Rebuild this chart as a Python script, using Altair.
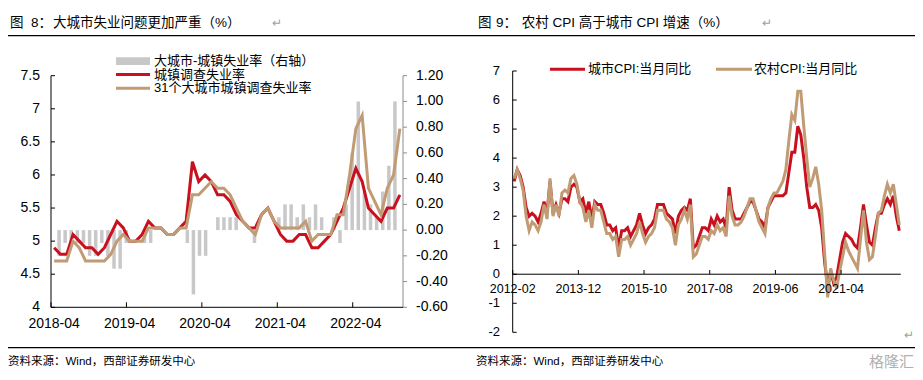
import altair as alt
import pandas as pd

# ================= 图8 data =================
months8 = pd.period_range("2018-04", "2022-11", freq="M").strftime("%Y-%m").tolist()
unemp_urban = [4.9, 4.8, 4.8, 5.1, 5.0, 4.9, 4.9, 4.8, 4.9,
               5.1, 5.3, 5.2, 5.0, 5.0, 5.1, 5.3, 5.2, 5.2, 5.1, 5.1, 5.2,
               5.3, 6.2, 5.9, 6.0, 5.9, 5.7, 5.7, 5.6, 5.4, 5.3, 5.2, 5.2,
               5.4, 5.5, 5.3, 5.1, 5.0, 5.0, 5.1, 5.1, 4.9, 4.9, 5.0, 5.1,
               5.3, 5.5, 5.8, 6.1, 5.9, 5.5, 5.4, 5.3, 5.5, 5.5, 5.7]
unemp_31 = [4.7, 4.7, 4.7, 5.0, 4.9, 4.7, 4.7, 4.7, 4.7,
            4.8, 5.0, 5.1, 5.0, 5.0, 5.0, 5.2, 5.2, 5.2, 5.1, 5.1, 5.2,
            5.2, 5.7, 5.7, 5.8, 5.9, 5.8, 5.8, 5.7, 5.5, 5.3, 5.2, 5.1,
            5.4, 5.5, 5.3, 5.2, 5.2, 5.2, 5.2, 5.3, 5.0, 5.1, 5.1, 5.1,
            5.4, 5.4, 6.0, 6.7, 6.9, 5.8, 5.6, 5.4, 5.8, 6.0, 6.7]
unemp_gap = [-0.2, -0.1, -0.1, -0.1, -0.1, -0.2, -0.2, -0.1, -0.2,
             -0.3, -0.3, -0.1, 0.0, 0.0, -0.1, -0.1, 0.0, 0.0, 0.0, 0.0, 0.0,
             -0.1, -0.5, -0.2, -0.2, 0.0, 0.1, 0.1, 0.1, 0.1, 0.0, 0.0, -0.1,
             0.0, 0.0, 0.0, 0.1, 0.2, 0.2, 0.1, 0.2, 0.1, 0.2, 0.1, 0.0,
             0.1, -0.1, 0.2, 0.6, 1.0, 0.3, 0.2, 0.1, 0.3, 0.5, 1.0]
xlabels8 = ["2018-04", "2019-04", "2020-04", "2021-04", "2022-04"]
yl8_vals = [4, 4.5, 5, 5.5, 6, 6.5, 7, 7.5]
yl8_labs = ["4", "4.5", "5", "5.5", "6", "6.5", "7", "7.5"]
yr8_vals = [-0.6, -0.4, -0.2, 0.0, 0.2, 0.4, 0.6, 0.8, 1.0, 1.2]
yr8_labs = ["-0.60", "-0.40", "-0.20", "0.00", "0.20", "0.40", "0.60", "0.80", "1.00", "1.20"]

# ================= 图9 data =================
months9 = pd.period_range("2012-02", "2022-11", freq="M").strftime("%Y-%m").tolist()
cpi_urban = [3.2, 3.6, 3.4, 3.0, 2.3, 2.0, 2.1, 2.0, 1.8, 2.1, 2.5,
             2.1, 3.2, 2.1, 2.4, 2.1, 2.6, 2.6, 2.5, 3.0, 3.1, 3.0, 2.5,
             2.6, 2.1, 2.5, 1.9, 2.5, 2.4, 2.4, 2.1, 1.7, 1.7, 1.5, 1.6,
             0.9, 1.5, 1.5, 1.6, 1.3, 1.5, 1.7, 2.1, 1.7, 1.4, 1.6, 1.7,
             1.9, 2.4, 2.4, 2.4, 2.1, 2.0, 1.9, 1.4, 2.0, 2.2, 2.3, 2.2,
             2.6, 0.9, 1.0, 1.3, 1.6, 1.6, 1.5, 1.9, 1.7, 2.0, 1.8, 1.9,
             1.6, 3.0, 2.2, 1.9, 1.9, 1.9, 2.1, 2.3, 2.5, 2.5, 2.2, 1.9,
             1.8, 1.6, 2.3, 2.5, 2.7, 2.7, 2.7, 2.7, 2.8, 3.5, 4.2, 4.2,
             5.1, 4.8, 4.0, 3.0, 2.3, 2.3, 2.4, 2.2, 1.6, 0.4, -0.4, 0.1,
             -0.3, -0.1, 0.5, 1.1, 1.4, 1.3, 1.2, 1.0, 0.9, 1.6, 2.4, 1.7,
             1.1, 1.0, 1.6, 2.1, 2.1, 2.4, 2.6, 2.4, 2.7, 2.0, 1.5]
cpi_rural = [3.3, 3.6, 3.3, 2.9, 2.0, 1.5, 1.8, 1.7, 1.5, 1.8, 2.4,
             1.9, 3.3, 2.0, 2.4, 2.0, 2.8, 2.9, 2.8, 3.3, 3.4, 3.1, 2.5,
             2.3, 1.8, 2.2, 1.6, 2.4, 2.2, 2.2, 1.8, 1.4, 1.4, 1.2, 1.3,
             0.6, 1.2, 1.2, 1.3, 1.0, 1.2, 1.4, 1.8, 1.4, 1.1, 1.3, 1.4,
             1.6, 2.2, 2.2, 2.2, 1.9, 1.8, 1.6, 1.0, 1.7, 1.9, 2.2, 1.9,
             2.4, 0.6, 0.7, 1.0, 1.3, 1.3, 1.2, 1.5, 1.4, 1.7, 1.5, 1.6,
             1.3, 2.7, 2.0, 1.7, 1.7, 1.8, 2.0, 2.3, 2.6, 2.6, 2.2, 1.8,
             1.6, 1.4, 2.3, 2.6, 2.8, 2.8, 3.0, 3.2, 3.6, 4.6, 5.5, 5.3,
             6.3, 6.3, 5.1, 4.0, 3.0, 3.3, 3.7, 3.1, 2.2, 0.7, -0.8, 0.2,
             -0.2, -0.5, 0.1, 0.6, 1.1, 0.8, 0.6, 0.4, 0.2, 1.2, 2.2, 1.1,
             0.5, 0.6, 1.3, 2.1, 2.2, 2.7, 3.1, 2.8, 3.1, 2.4, 1.7]
xlabels9 = ["2012-02", "2013-12", "2015-10", "2017-08", "2019-06", "2021-04"]
y9_vals = [-2, -1, 0, 1, 2, 3, 4, 5, 6, 7]
y9_labs = ["-2", "-1", "0", "1", "2", "3", "4", "5", "6", "7"]

# ================= styles =================
RED = "#C8101E"
TAN = "#C09B74"
GREY_BAR = "#C8C8C8"
NUM = "Liberation Sans, Arial, Noto Sans CJK SC, sans-serif"
CJK = "Liberation Sans, Noto Sans CJK SC, sans-serif"

df8 = pd.DataFrame({"i": range(len(months8)), "m": months8,
                    "urban": unemp_urban, "big": unemp_31, "gap": unemp_gap})
df9 = pd.DataFrame({"j": range(len(months9)), "m": months9,
                    "urban": cpi_urban, "rural": cpi_rural})

X8 = alt.Scale(domain=[-0.5, len(months8) - 0.5], range=[43, 395], nice=False, zero=False)
YL8 = alt.Scale(domain=[4, 7.5], range=[299.3, 67.7], nice=False, zero=False)
YR8 = alt.Scale(domain=[-0.6, 1.2], range=[299.3, 67.7], nice=False, zero=False)
X9 = alt.Scale(domain=[-0.5, len(months9) - 0.5], range=[504.7, 892.8], nice=False, zero=False)
Y9 = alt.Scale(domain=[-2, 7], range=[324.3, 63], nice=False, zero=False)


def one(**kw):
    return pd.DataFrame({k: [v] for k, v in kw.items()})


def txt(s, x, y, size=13, color="#000000", align="left", font=CJK):
    return alt.Chart(one(t=s)).mark_text(
        align=align, baseline="middle", fontSize=size, font=font, color=color
    ).encode(x=alt.value(x), y=alt.value(y), text="t:N")


def seg(x1, x2, y1, y2, color, w):
    return alt.Chart(one(a=0)).mark_rule(color=color, strokeWidth=w).encode(
        x=alt.value(x1), x2=alt.value(x2), y=alt.value(y1), y2=alt.value(y2))


layers = []

# ---------------- 图8 ----------------
layers.append(
    alt.Chart(df8).transform_calculate(base="0").mark_bar(size=3.5, color=GREY_BAR).encode(
        x=alt.X("i:Q", scale=X8, axis=None),
        y=alt.Y("gap:Q", scale=YR8, axis=None),
        y2="base:Q"))
layers.append(
    alt.Chart(df8).mark_line(color=RED, strokeWidth=3).encode(
        x=alt.X("i:Q", scale=X8, axis=None), y=alt.Y("urban:Q", scale=YL8, axis=None)))
layers.append(
    alt.Chart(df8).mark_line(color=TAN, strokeWidth=3).encode(
        x=alt.X("i:Q", scale=X8, axis=None), y=alt.Y("big:Q", scale=YL8, axis=None)))
# left axis
layers.append(alt.Chart(one(a=4, b=7.5)).mark_rule(color="black", strokeWidth=1).encode(
    x=alt.value(43), y=alt.Y("a:Q", scale=YL8, axis=None), y2="b:Q"))
layers.append(alt.Chart(pd.DataFrame({"v": yl8_vals})).mark_rule(color="black").encode(
    x=alt.value(43), x2=alt.value(47), y=alt.Y("v:Q", scale=YL8, axis=None)))
layers.append(alt.Chart(pd.DataFrame({"v": yl8_vals, "t": yl8_labs})).mark_text(
    align="right", baseline="middle", fontSize=14, font=NUM, color="black").encode(
    x=alt.value(32), y=alt.Y("v:Q", scale=YL8, axis=None), text="t:N"))
# right axis
layers.append(alt.Chart(one(a=-0.6, b=1.2)).mark_rule(color="#8C8C8C", strokeWidth=1).encode(
    x=alt.value(395), y=alt.Y("a:Q", scale=YR8, axis=None), y2="b:Q"))
layers.append(alt.Chart(pd.DataFrame({"v": yr8_vals})).mark_rule(color="#8C8C8C").encode(
    x=alt.value(395), x2=alt.value(399), y=alt.Y("v:Q", scale=YR8, axis=None)))
layers.append(alt.Chart(pd.DataFrame({"v": yr8_vals, "t": yr8_labs})).mark_text(
    align="left", baseline="middle", fontSize=14, font=NUM, color="black").encode(
    x=alt.value(408), y=alt.Y("v:Q", scale=YR8, axis=None), text="t:N"))
# x axis
layers.append(alt.Chart(one(a=-0.5, b=len(months8) - 0.5)).mark_rule(color="black").encode(
    x=alt.X("a:Q", scale=X8, axis=None), x2="b:Q", y=alt.value(299.3)))
pos8 = [months8.index(l) for l in xlabels8]
layers.append(alt.Chart(pd.DataFrame({"v": [p - 0.5 for p in pos8]})).mark_rule(color="black").encode(
    x=alt.X("v:Q", scale=X8, axis=None), y=alt.value(299.3), y2=alt.value(294.3)))
layers.append(alt.Chart(pd.DataFrame({"v": pos8, "t": xlabels8})).mark_text(
    align="center", baseline="middle", fontSize=14, font=NUM, color="black").encode(
    x=alt.X("v:Q", scale=X8, axis=None), y=alt.value(316.3), text="t:N"))
# legend 8
layers.append(alt.Chart(one(a=0)).mark_rect(color=GREY_BAR).encode(
    x=alt.value(108), x2=alt.value(142), y=alt.value(49.3), y2=alt.value(57)))
layers.append(seg(108, 142, 66.5, 66.5, RED, 3))
layers.append(seg(108, 142, 80.3, 80.3, TAN, 3))
layers.append(txt("大城市-城镇失业率（右轴）", 146, 53, 13))
layers.append(txt("城镇调查失业率", 146, 66.5, 13))
layers.append(txt("31个大城市城镇调查失业率", 146, 80.3, 13))

# ---------------- 图9 ----------------
layers.append(
    alt.Chart(df9).mark_line(color=RED, strokeWidth=3).encode(
        x=alt.X("j:Q", scale=X9, axis=None), y=alt.Y("urban:Q", scale=Y9, axis=None)))
layers.append(
    alt.Chart(df9).mark_line(color=TAN, strokeWidth=3).encode(
        x=alt.X("j:Q", scale=X9, axis=None), y=alt.Y("rural:Q", scale=Y9, axis=None)))
layers.append(alt.Chart(one(a=-2, b=7)).mark_rule(color="black").encode(
    x=alt.value(504.7), y=alt.Y("a:Q", scale=Y9, axis=None), y2="b:Q"))
layers.append(alt.Chart(pd.DataFrame({"v": y9_vals})).mark_rule(color="black").encode(
    x=alt.value(504.7), x2=alt.value(508.7), y=alt.Y("v:Q", scale=Y9, axis=None)))
layers.append(alt.Chart(pd.DataFrame({"v": y9_vals, "t": y9_labs})).mark_text(
    align="right", baseline="middle", fontSize=13, font=NUM, color="black").encode(
    x=alt.value(492), y=alt.Y("v:Q", scale=Y9, axis=None), text="t:N"))
layers.append(alt.Chart(one(a=-0.5, b=len(months9) - 0.5, z=0)).mark_rule(color="black").encode(
    x=alt.X("a:Q", scale=X9, axis=None), x2="b:Q", y=alt.Y("z:Q", scale=Y9, axis=None)))
pos9 = [months9.index(l) - 0.5 for l in xlabels9]
layers.append(alt.Chart(pd.DataFrame({"v": pos9})).mark_rule(color="black").encode(
    x=alt.X("v:Q", scale=X9, axis=None), y=alt.value(266), y2=alt.value(262)))
layers.append(alt.Chart(pd.DataFrame({"v": pos9, "t": xlabels9})).mark_text(
    align="center", baseline="middle", fontSize=12.5, font=NUM, color="black").encode(
    x=alt.X("v:Q", scale=X9, axis=None), y=alt.value(280.65), text="t:N"))
# legend 9
layers.append(seg(542, 577, 61.3, 61.3, RED, 3))
layers.append(txt("城市CPI:当月同比", 580, 61.3, 13))
layers.append(seg(708, 744, 61.3, 61.3, TAN, 3))
layers.append(txt("农村CPI:当月同比", 746, 61.3, 13))

# ---------------- titles, rules, sources ----------------
layers.append(txt("图", 2, 15, 13.5))
layers.append(txt("8：", 23, 15, 13.5))
layers.append(txt("大城市失业问题更加严重（%）", 45, 15, 13.5))
layers.append(txt("↵", 264, 15, 12, color="#A0A0A0"))
layers.append(txt("图", 470, 15, 13.5))
layers.append(txt("9：", 488, 15, 13.5))
layers.append(txt("农村 CPI 高于城市 CPI 增速（%）", 513.7, 15, 13.5))
layers.append(txt("↵", 754, 15, 12, color="#A0A0A0"))
layers.append(seg(0, 907, 27.7, 27.7, "black", 1.2))
layers.append(seg(0, 907, 339.7, 339.7, "black", 1.2))
layers.append(txt("↵", 906, 327, 12, color="#A0A0A0", align="right"))
layers.append(txt("资料来源：Wind，西部证券研发中心", 0, 354, 11.5))
layers.append(txt("资料来源：Wind，西部证券研发中心", 468, 354, 11.5))
layers.append(txt("格隆汇", 906, 354, 15, color="#B0B0B0", align="right"))

chart = alt.layer(*layers).resolve_scale(x="independent", y="independent").properties(
    width=907, height=364, padding=0,
    autosize=alt.AutoSizeParams(type="none"),
).configure_view(stroke=None)

chart.save("out.html", embed_options={"renderer": "svg", "actions": False})
